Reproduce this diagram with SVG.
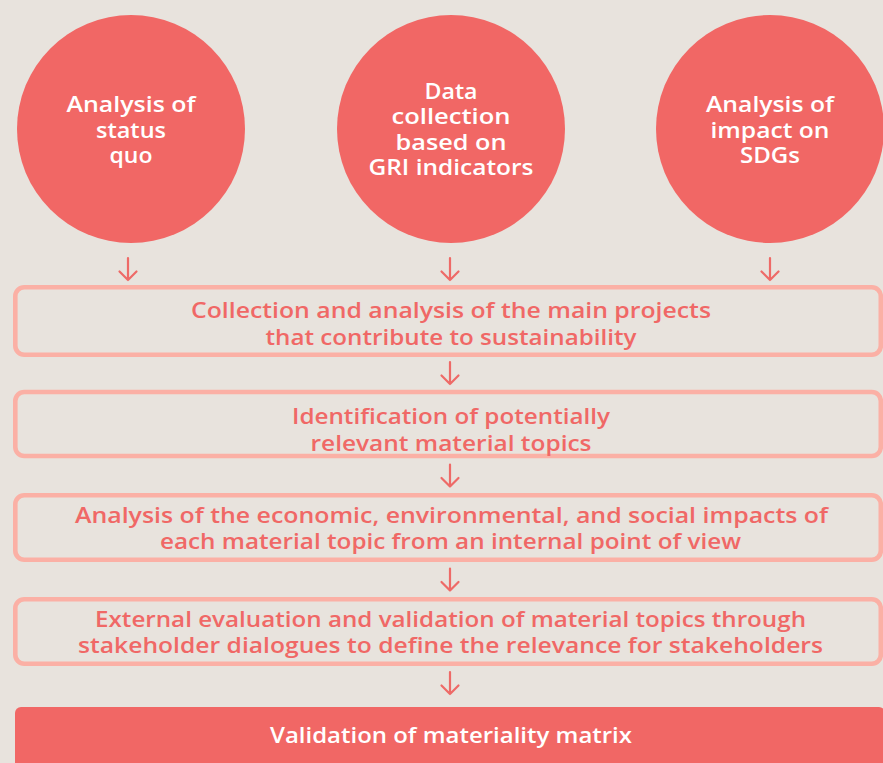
<svg xmlns="http://www.w3.org/2000/svg" width="883" height="763" viewBox="0 0 883 763">
<style>
.bg{fill:#E8E3DD}
.circ{fill:#F16765}
.box{fill:none;stroke:#FBB0A5;stroke-width:4.6}
.fbox{fill:#F16765}
.t{font-family:"Open Sans","DejaVu Sans",sans-serif;font-weight:600;font-size:21px;text-anchor:middle}
.w{fill:#FFFFFF}
.r{fill:#F06866}
.arr{fill:none;stroke:#EE6A67;stroke-width:2.2;stroke-linecap:round;stroke-linejoin:round}
</style>
<defs>
<path id="ar" d="M0,0 V22 M-8.5,13.5 L0,22 L8.5,13.5"/>
</defs>
<rect class="bg" x="0" y="0" width="883" height="763"/>
<g id="c1">
<circle class="circ" cx="131" cy="129" r="114"/>
<text class="t w" x="131" y="112" textLength="129" lengthAdjust="spacingAndGlyphs">Analysis of</text>
<text class="t w" x="131" y="137.5" textLength="70" lengthAdjust="spacingAndGlyphs">status</text>
<text class="t w" x="131" y="163" textLength="43" lengthAdjust="spacingAndGlyphs">quo</text>
</g>
<g id="c2">
<circle class="circ" cx="451" cy="129" r="114"/>
<text class="t w" x="451" y="98.5" textLength="53" lengthAdjust="spacingAndGlyphs">Data</text>
<text class="t w" x="451" y="124" textLength="119" lengthAdjust="spacingAndGlyphs">collection</text>
<text class="t w" x="451" y="149.5" textLength="111" lengthAdjust="spacingAndGlyphs">based on</text>
<text class="t w" x="451" y="175" textLength="165" lengthAdjust="spacingAndGlyphs">GRI indicators</text>
</g>
<g id="c3">
<circle class="circ" cx="770" cy="129" r="114"/>
<text class="t w" x="770" y="112" textLength="128" lengthAdjust="spacingAndGlyphs">Analysis of</text>
<text class="t w" x="770" y="137.5" textLength="119" lengthAdjust="spacingAndGlyphs">impact on</text>
<text class="t w" x="770" y="163" textLength="60" lengthAdjust="spacingAndGlyphs">SDGs</text>
</g>
<g id="b1">
<rect class="box" x="15.3" y="287.3" width="865.5" height="67.5" rx="9"/>
<text class="t r" x="451" y="318" textLength="520" lengthAdjust="spacingAndGlyphs">Collection and analysis of the main projects</text>
<text class="t r" x="451" y="344.5" textLength="371" lengthAdjust="spacingAndGlyphs">that contribute to sustainability</text>
</g>
<g id="b2">
<rect class="box" x="15.3" y="392" width="865.5" height="64" rx="9"/>
<text class="t r" x="451" y="424" textLength="318" lengthAdjust="spacingAndGlyphs">Identification of potentially</text>
<text class="t r" x="451" y="450.5" textLength="281" lengthAdjust="spacingAndGlyphs">relevant material topics</text>
</g>
<g id="b3">
<rect class="box" x="15.3" y="495.3" width="865.5" height="64.5" rx="9"/>
<text class="t r" x="451.5" y="523" textLength="753" lengthAdjust="spacingAndGlyphs">Analysis of the economic, environmental, and social impacts of</text>
<text class="t r" x="450.5" y="548.5" textLength="581" lengthAdjust="spacingAndGlyphs">each material topic from an internal point of view</text>
</g>
<g id="b4">
<rect class="box" x="15.3" y="599.3" width="865.5" height="64.5" rx="9"/>
<text class="t r" x="450.5" y="627" textLength="711" lengthAdjust="spacingAndGlyphs">External evaluation and validation of material topics through</text>
<text class="t r" x="450.5" y="653" textLength="745" lengthAdjust="spacingAndGlyphs">stakeholder dialogues to define the relevance for stakeholders</text>
</g>
<g id="b5">
<rect class="fbox" x="15" y="707" width="870" height="70" rx="6"/>
<text class="t w" x="451" y="743" textLength="362" lengthAdjust="spacingAndGlyphs">Validation of materiality matrix</text>
</g>
<g id="connectors">
<use href="#ar" class="arr" x="128" y="258"/>
<use href="#ar" class="arr" x="450" y="258"/>
<use href="#ar" class="arr" x="770" y="258"/>
<use href="#ar" class="arr" x="450" y="362"/>
<use href="#ar" class="arr" x="450" y="464.5"/>
<use href="#ar" class="arr" x="450" y="568.5"/>
<use href="#ar" class="arr" x="450" y="672"/>
</g>
</svg>
